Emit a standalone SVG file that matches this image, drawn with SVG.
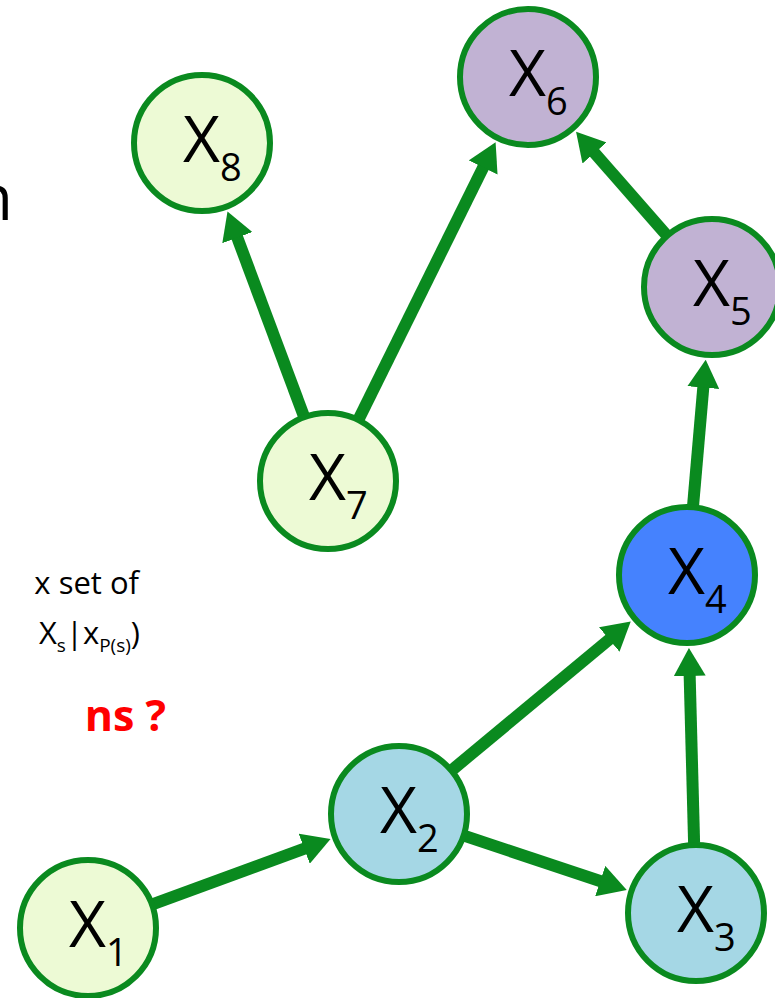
<svg xmlns="http://www.w3.org/2000/svg" width="775" height="998" viewBox="0 0 775 998">
<style>
.node{stroke:#0a8a1f;stroke-width:6}
.lg{fill:#edfad5}.pu{fill:#c1b2d3}.lb{fill:#a5d7e5}.bl{fill:#4582fe}
.lbl{font-family:"Open Sans","Liberation Sans",sans-serif;font-size:64px;fill:#000}
.sub{font-size:38px}
.edge{stroke:#0a8a1f;stroke-width:12;fill:none;marker-end:url(#ah)}
.side{font-family:"Open Sans","Liberation Sans",sans-serif;fill:#000}
</style>
<defs>
<marker id="ah" viewBox="0 0 28 32" refX="14" refY="16" markerWidth="28" markerHeight="32" markerUnits="userSpaceOnUse" orient="auto">
<path d="M0,0 L28,16 L0,32 Z" fill="#0a8a1f"/>
</marker>
</defs>
<g id="side-text">
<text class="side" x="13" y="220" font-size="64" text-anchor="end">n</text>
<text class="side" x="139" y="594" font-size="31" text-anchor="end">x set of</text>
<text class="side" x="140" y="644" font-size="31" text-anchor="end">X<tspan font-size="19" dy="8">s</tspan><tspan dy="-8">|x</tspan><tspan font-size="19" dy="8">P(s)</tspan><tspan dy="-8">)</tspan></text>
<text class="side" x="166" y="731" font-size="43" font-weight="bold" text-anchor="end" style="fill:#ff0000">ns ?</text>
</g>
<g id="connectors">
<path class="edge" d="M303.6,415.4 L232.4,224.5"/>
<path class="edge" d="M359.1,418.3 L489.4,154.9"/>
<path class="edge" d="M665.9,234.4 L585.3,142.4"/>
<path class="edge" d="M693.1,505.3 L704.5,373.6"/>
<path class="edge" d="M452.9,769.3 L620.0,630.5"/>
<path class="edge" d="M694.1,843 L689.3,662"/>
<path class="edge" d="M153.7,903.9 L317.4,843.9"/>
<path class="edge" d="M465.4,836.1 L613.5,885.5"/>
</g>
<g id="X8"><circle class="node lg" cx="202" cy="143" r="68"/><text class="lbl" x="183" y="162">X<tspan class="sub" dy="19">8</tspan></text></g>
<g id="X6"><circle class="node pu" cx="528" cy="77" r="68"/><text class="lbl" x="509" y="96">X<tspan class="sub" dy="19">6</tspan></text></g>
<g id="X5"><circle class="node pu" cx="712" cy="287" r="68"/><text class="lbl" x="693" y="306">X<tspan class="sub" dy="19">5</tspan></text></g>
<g id="X7"><circle class="node lg" cx="328" cy="481" r="68"/><text class="lbl" x="309" y="500">X<tspan class="sub" dy="19">7</tspan></text></g>
<g id="X4"><circle class="node bl" cx="687" cy="575" r="68"/><text class="lbl" x="668" y="594">X<tspan class="sub" dy="19">4</tspan></text></g>
<g id="X2"><circle class="node lb" cx="399" cy="814" r="68"/><text class="lbl" x="380" y="833">X<tspan class="sub" dy="19">2</tspan></text></g>
<g id="X3"><circle class="node lb" cx="696" cy="913" r="68"/><text class="lbl" x="677" y="932">X<tspan class="sub" dy="19">3</tspan></text></g>
<g id="X1"><circle class="node lg" cx="88" cy="928" r="68"/><text class="lbl" x="69" y="947">X<tspan class="sub" dy="19">1</tspan></text></g>
</svg>
